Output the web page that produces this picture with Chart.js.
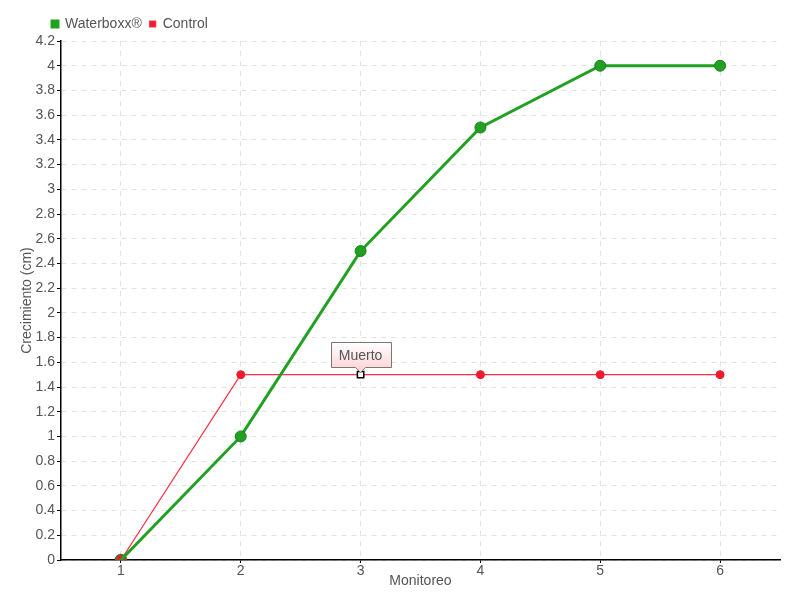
<!DOCTYPE html>
<html>
<head>
<meta charset="utf-8">
<script src="https://cdn.jsdelivr.net/npm/chart.js@4/dist/chart.umd.min.js"></script>
<style>
  html, body { margin: 0; padding: 0; background: #fff; }
  #wrap { width: 800px; height: 600px; }
</style>
</head>
<body>
<div id="wrap"><canvas id="growthChart" width="800" height="600"></canvas></div>
<script>
const monitoreo = ['1', '2', '3', '4', '5', '6'];
const waterboxx = [0, 1, 2.5, 3.5, 4, 4];
const control = [0, 1.5, 1.5, 1.5, 1.5, 1.5];
const deadIndex = 2;
const deadLabel = 'Muerto';

const fontFamily = '"Liberation Sans", Arial, sans-serif';
const textColor = '#555';

// little callout box above the control point where the plant died
const calloutPlugin = {
    id: 'callout',
    afterLayout(chart) {
        // push the legend right so it starts near the y axis like the original
        chart.legend.left += 25;
        chart.legend.right += 25;
    },
    afterDatasetsDraw(chart) {
        const meta = chart.getDatasetMeta(1);
        const pt = meta.data[deadIndex];
        if (!pt) return;
        const ctx = chart.ctx;
        const w = 60, h = 25;
        const x = Math.round(pt.x - w / 2) + 0.5;
        const y = Math.round(pt.y - 8 - h) + 0.5;
        ctx.save();
        const grad = ctx.createLinearGradient(0, y, 0, y + h);
        grad.addColorStop(0, '#ffffff');
        grad.addColorStop(1, '#ffd6da');
        ctx.beginPath();
        ctx.moveTo(x, y);
        ctx.lineTo(x + w, y);
        ctx.lineTo(x + w, y + h);
        ctx.lineTo(pt.x + 5, y + h);
        ctx.lineTo(pt.x, y + h + 5);
        ctx.lineTo(pt.x - 5, y + h);
        ctx.lineTo(x, y + h);
        ctx.closePath();
        ctx.fillStyle = grad;
        ctx.fill();
        ctx.strokeStyle = '#777';
        ctx.lineWidth = 1;
        ctx.stroke();
        ctx.fillStyle = textColor;
        ctx.font = '14px ' + fontFamily;
        ctx.textAlign = 'center';
        ctx.textBaseline = 'middle';
        ctx.fillText(deadLabel, pt.x, y + h / 2 + 1);
        ctx.restore();
    }
};

const ctx = document.getElementById('growthChart').getContext('2d');

new Chart(ctx, {
    type: 'line',
    data: {
        labels: monitoreo,
        datasets: [
            {
                label: 'Waterboxx®',
                data: waterboxx,
                borderColor: '#22a022',
                backgroundColor: '#22a022',
                borderWidth: 3,
                // first point is hidden under the red control marker in the original
                pointRadius: waterboxx.map((v, i) => i === 0 ? 0 : 5.5),
                pointBackgroundColor: '#22a022',
                pointBorderColor: '#1b7f1b',
                pointBorderWidth: 1,
                tension: 0,
                fill: false
            },
            {
                label: 'Control',
                data: control,
                borderColor: '#ff2f45',
                backgroundColor: '#ee1c2e',
                borderWidth: 1.2,
                pointRadius: control.map((v, i) => i === 0 ? 5.5 : (i === deadIndex ? 4.5 : 4)),
                pointStyle: control.map((v, i) => i === deadIndex ? 'rect' : 'circle'),
                pointBackgroundColor: control.map((v, i) => i === deadIndex ? '#ffffff' : '#ee1c2e'),
                pointBorderColor: control.map((v, i) => i === deadIndex ? '#000000' : (i === 0 ? '#3a7a2a' : '#ee1c2e')),
                pointBorderWidth: control.map((v, i) => i === deadIndex ? 1.5 : (i === 0 ? 1.5 : 1)),
                tension: 0,
                fill: false
            }
        ]
    },
    options: {
        responsive: false,
        animation: false,
        layout: { padding: { left: 19, right: 20, top: 9, bottom: 10 } },
        plugins: {
            legend: {
                align: 'start',
                afterFit(legend) { legend.height = 29; },
                labels: {
                    boxWidth: 6,
                    boxHeight: 6,
                    padding: 8,
                    color: textColor,
                    font: { family: fontFamily, size: 14 }
                }
            },
            tooltip: { enabled: false }
        },
        scales: {
            x: {
                offset: true,
                afterFit(scale) { scale.height = 30; },
                title: {
                    display: true,
                    text: 'Monitoreo',
                    color: textColor,
                    padding: 0,
                    font: { family: fontFamily, size: 14 }
                },
                grid: {
                    color: '#e2e2e2',
                    offset: false,
                    tickColor: '#000',
                    tickBorderDash: [],
                    tickLength: 3
                },
                border: { color: '#000', width: 1.5, dash: [5, 5] },
                ticks: {
                    color: textColor,
                    padding: 0,
                    font: { family: fontFamily, size: 14 }
                }
            },
            y: {
                min: 0,
                max: 4.2,
                afterFit(scale) { scale.width = 42; },
                title: {
                    display: true,
                    text: 'Crecimiento (cm)',
                    color: textColor,
                    padding: 0,
                    font: { family: fontFamily, size: 14 }
                },
                grid: {
                    color: '#e2e2e2',
                    tickColor: '#000',
                    tickBorderDash: [],
                    tickLength: 4
                },
                border: { color: '#000', width: 1.5, dash: [5, 5] },
                ticks: {
                    stepSize: 0.2,
                    color: textColor,
                    padding: 2,
                    font: { family: fontFamily, size: 14 },
                    callback: v => String(Math.round(v * 10) / 10)
                }
            }
        }
    },
    plugins: [calloutPlugin]
});
</script>
</body>
</html>
